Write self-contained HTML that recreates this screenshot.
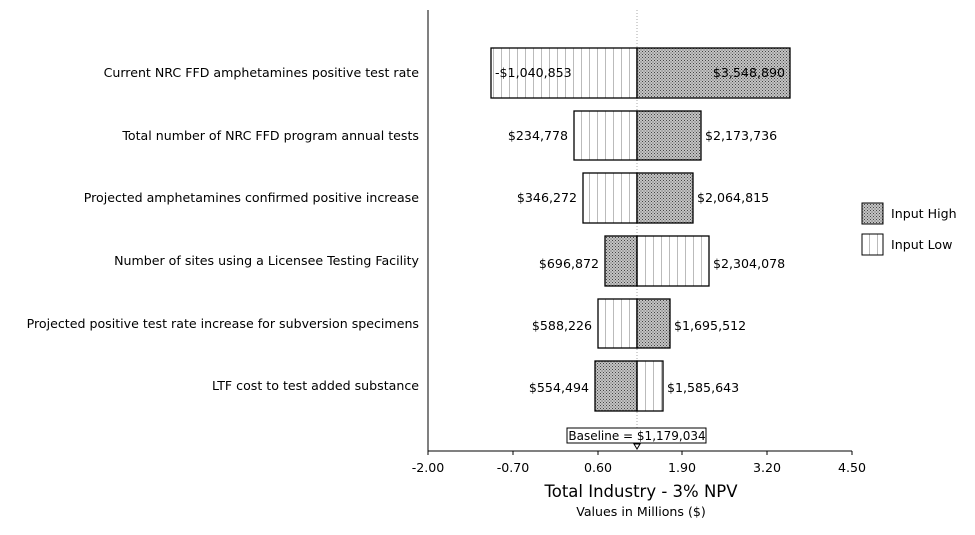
<!DOCTYPE html>
<html><head><meta charset="utf-8"><style>
body{margin:0;background:#fff}
svg text{font-family:"DejaVu Sans","Liberation Sans",sans-serif;font-size:12.6px;fill:#000}
</style></head><body>
<svg width="975" height="530" xmlns="http://www.w3.org/2000/svg">
<defs>
<pattern id="dot" width="3" height="3" patternUnits="userSpaceOnUse">
<rect width="3" height="3" fill="#c4c4c4"/><rect x="0" y="0" width="1" height="1" fill="#444"/><rect x="1.5" y="1.5" width="1" height="1" fill="#555"/>
</pattern>
<pattern id="str" width="8" height="10" patternUnits="userSpaceOnUse" x="637">
<rect width="8" height="10" fill="#fff"/><rect x="0" width="1" height="10" fill="#bbb"/>
</pattern>
</defs>
<line x1="637" y1="10" x2="637" y2="450" stroke="#aaa" stroke-dasharray="1,2"/>
<g stroke="#000" stroke-width="1.3">
<rect x="491" y="48" width="146" height="50" fill="url(#str)"/><rect x="637" y="48" width="153" height="50" fill="url(#dot)"/>
<rect x="574" y="111" width="63" height="49" fill="url(#str)"/><rect x="637" y="111" width="64" height="49" fill="url(#dot)"/>
<rect x="583" y="173" width="54" height="50" fill="url(#str)"/><rect x="637" y="173" width="56" height="50" fill="url(#dot)"/>
<rect x="605" y="236" width="32" height="50" fill="url(#dot)"/><rect x="637" y="236" width="72" height="50" fill="url(#str)"/>
<rect x="598" y="299" width="39" height="49" fill="url(#str)"/><rect x="637" y="299" width="33" height="49" fill="url(#dot)"/>
<rect x="595" y="361" width="42" height="50" fill="url(#dot)"/><rect x="637" y="361" width="26" height="50" fill="url(#str)"/>
</g>
<line x1="428" y1="10" x2="428" y2="451" stroke="#000"/>
<line x1="428" y1="451" x2="852" y2="451" stroke="#000"/>
<g stroke="#000"><line x1="428" y1="451" x2="428" y2="455"/><line x1="513" y1="451" x2="513" y2="455"/><line x1="598" y1="451" x2="598" y2="455"/><line x1="682" y1="451" x2="682" y2="455"/><line x1="767" y1="451" x2="767" y2="455"/><line x1="852" y1="451" x2="852" y2="455"/></g>
<g text-anchor="middle"><text x="428" y="472">-2.00</text><text x="513" y="472">-0.70</text><text x="598" y="472">0.60</text><text x="682" y="472">1.90</text><text x="767" y="472">3.20</text><text x="852" y="472">4.50</text>
<text x="641" y="497" style="font-size:16.5px">Total Industry - 3% NPV</text>
<text x="641" y="516">Values in Millions ($)</text></g>
<rect x="567" y="428" width="139" height="15" fill="#fff" stroke="#000"/>
<text x="637" y="440" text-anchor="middle" style="font-size:12px">Baseline = $1,179,034</text>
<path d="M634 444 L640 444 L637 449Z" fill="#fff" stroke="#000"/>
<g text-anchor="end">
<text x="419" y="77">Current NRC FFD amphetamines positive test rate</text>
<text x="419" y="140">Total number of NRC FFD program annual tests</text>
<text x="419" y="202">Projected amphetamines confirmed positive increase</text>
<text x="419" y="265">Number of sites using a Licensee Testing Facility</text>
<text x="419" y="328">Projected positive test rate increase for subversion specimens</text>
<text x="419" y="390">LTF cost to test added substance</text>
<text x="785" y="77">$3,548,890</text>
<text x="568" y="140">$234,778</text>
<text x="577" y="202">$346,272</text>
<text x="599" y="268">$696,872</text>
<text x="592" y="330">$588,226</text>
<text x="589" y="392">$554,494</text>
</g>
<text x="495" y="77">-$1,040,853</text>
<text x="705" y="140">$2,173,736</text>
<text x="697" y="202">$2,064,815</text>
<text x="713" y="268">$2,304,078</text>
<text x="674" y="330">$1,695,512</text>
<text x="667" y="392">$1,585,643</text>
<rect x="862" y="203" width="21" height="21" fill="url(#dot)" stroke="#000"/>
<rect x="862" y="234" width="21" height="21" fill="url(#str)" stroke="#000"/>
<text x="891" y="218">Input High</text>
<text x="891" y="249">Input Low</text>
</svg>
</body></html>
